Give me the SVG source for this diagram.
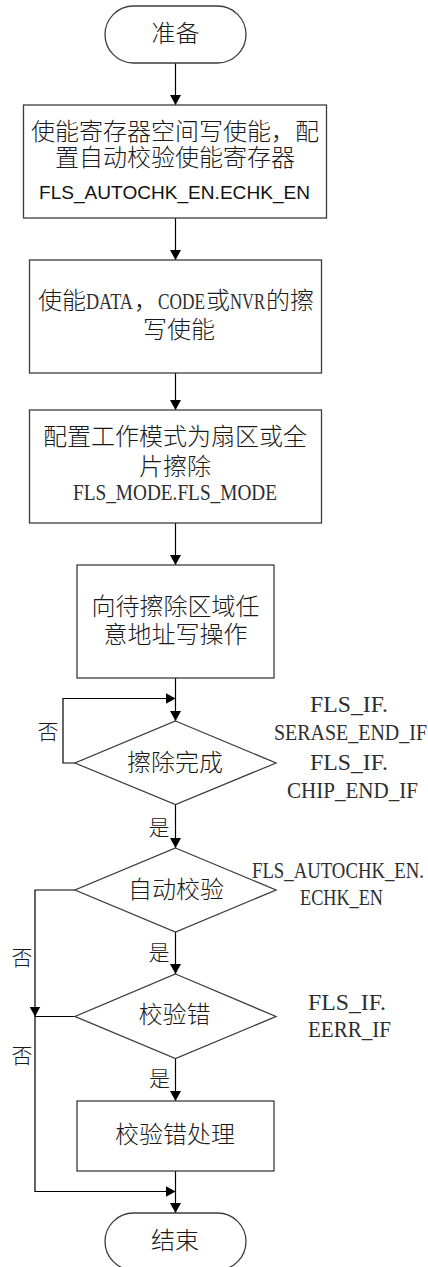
<svg xmlns="http://www.w3.org/2000/svg" width="428" height="1267" viewBox="0 0 428 1267">
  <style>
    .shape { fill: #ffffff; stroke: #3c3c3c; stroke-width: 1.3; }
    .link { fill: none; stroke: #000000; stroke-width: 1.2; }
    .zh { font-family: "Noto Sans CJK SC", "Noto Sans", sans-serif; font-size: 24px; font-weight: 300; fill: #1a1a1a; }
    .zh-mid { text-anchor: middle; }
    .lbl { font-family: "Noto Sans CJK SC", "Noto Sans", sans-serif; font-size: 21px; font-weight: 300; fill: #1a1a1a; text-anchor: middle; }
    .reg { font-family: "Liberation Serif", "Noto Sans CJK SC", serif; font-size: 23px; fill: #2e2e2e; }
    .reg-sans { font-family: "Liberation Sans", "Noto Sans", sans-serif; font-size: 19px; fill: #111111; }
  </style>
  <defs>
    <marker id="arrow" markerUnits="userSpaceOnUse" markerWidth="10" markerHeight="11" refX="10" refY="5.5" orient="auto">
      <path d="M0,0 L10,5.5 L0,11 Z" fill="#000000"/>
    </marker>
  </defs>

  <rect width="428" height="1267" fill="#ffffff"/>

  <!-- connectors -->
  <g id="connectors" class="link" marker-end="url(#arrow)">
    <path d="M175.5,63 V105"/>
    <path d="M175.5,218 V260"/>
    <path d="M175.5,373 V410"/>
    <path d="M175.5,523 V565"/>
    <path d="M175.5,678 V721"/>
    <path d="M75,763 H63 V698.5 H175.5"/>
    <path d="M175.5,804.5 V848"/>
    <path d="M75,890 H35 V1016.5"/>
    <path d="M175.5,932 V974"/>
    <path d="M75,1016.5 H35 V1191.5 H175.5"/>
    <path d="M175.5,1058.5 V1101"/>
    <path d="M175.5,1171 V1213"/>
  </g>

  <!-- start -->
  <g id="start">
    <rect class="shape" x="105" y="6" width="141" height="57" rx="28.5"/>
    <text class="zh zh-mid" x="175.5" y="41.5">准备</text>
  </g>

  <!-- enable register space write + auto check -->
  <g id="enable-autochk">
    <rect class="shape" x="23.5" y="105" width="303" height="113"/>
    <text class="zh zh-mid" x="175" y="140">使能寄存器空间写使能，配</text>
    <text class="zh zh-mid" x="175" y="166">置自动校验使能寄存器</text>
    <text class="reg-sans" x="39" y="199" textLength="271" lengthAdjust="spacingAndGlyphs">FLS_AUTOCHK_EN.ECHK_EN</text>
  </g>

  <!-- erase/write enable -->
  <g id="erase-enable">
    <rect class="shape" x="29.5" y="260" width="292" height="113"/>
    <text class="zh" y="309"><tspan x="38">使能</tspan><tspan class="reg" x="86" textLength="47" lengthAdjust="spacingAndGlyphs">DATA</tspan><tspan x="134">，</tspan><tspan class="reg" x="158" textLength="47" lengthAdjust="spacingAndGlyphs">CODE</tspan><tspan x="206">或</tspan><tspan class="reg" x="230" textLength="35" lengthAdjust="spacingAndGlyphs">NVR</tspan><tspan x="266">的擦</tspan></text>
    <text class="zh zh-mid" x="179" y="338">写使能</text>
  </g>

  <!-- erase mode -->
  <g id="erase-mode">
    <rect class="shape" x="29.5" y="410" width="292" height="113"/>
    <text class="zh zh-mid" x="175" y="445">配置工作模式为扇区或全</text>
    <text class="zh zh-mid" x="175" y="475">片擦除</text>
    <text class="reg" x="73" y="500" textLength="204" lengthAdjust="spacingAndGlyphs">FLS_MODE.FLS_MODE</text>
  </g>

  <!-- write to erase area -->
  <g id="write-address">
    <rect class="shape" x="77" y="565" width="197" height="113"/>
    <text class="zh zh-mid" x="175.5" y="615">向待擦除区域任</text>
    <text class="zh zh-mid" x="175.5" y="643">意地址写操作</text>
  </g>

  <!-- erase done -->
  <g id="erase-done">
    <polygon class="shape" points="175.5,721 276,763 175.5,804.5 75,763"/>
    <text class="zh zh-mid" x="175" y="771">擦除完成</text>
    <text class="reg" x="310" y="711.5" textLength="78" lengthAdjust="spacingAndGlyphs">FLS_IF.</text>
    <text class="reg" x="274" y="740" textLength="153" lengthAdjust="spacingAndGlyphs">SERASE_END_IF</text>
    <text class="reg" x="310" y="770" textLength="78" lengthAdjust="spacingAndGlyphs">FLS_IF.</text>
    <text class="reg" x="287" y="798" textLength="131" lengthAdjust="spacingAndGlyphs">CHIP_END_IF</text>
  </g>

  <!-- auto check -->
  <g id="auto-check">
    <polygon class="shape" points="175.5,848 276,890 175.5,932 75,890"/>
    <text class="zh zh-mid" x="176" y="898">自动校验</text>
    <text class="reg" x="252" y="878" textLength="172" lengthAdjust="spacingAndGlyphs">FLS_AUTOCHK_EN.</text>
    <text class="reg" x="300" y="905" textLength="83" lengthAdjust="spacingAndGlyphs">ECHK_EN</text>
  </g>

  <!-- check error -->
  <g id="check-error">
    <polygon class="shape" points="175.5,974 276,1016.5 175.5,1058.5 75,1016.5"/>
    <text class="zh zh-mid" x="174.5" y="1023">校验错</text>
    <text class="reg" x="308" y="1010" textLength="78" lengthAdjust="spacingAndGlyphs">FLS_IF.</text>
    <text class="reg" x="308" y="1037" textLength="83" lengthAdjust="spacingAndGlyphs">EERR_IF</text>
  </g>

  <!-- error handling -->
  <g id="error-handling">
    <rect class="shape" x="77" y="1101" width="197" height="70"/>
    <text class="zh zh-mid" x="175" y="1143">校验错处理</text>
  </g>

  <!-- end -->
  <g id="end">
    <rect class="shape" x="105" y="1213" width="141" height="57" rx="28.5"/>
    <text class="zh zh-mid" x="175" y="1249">结束</text>
  </g>

  <!-- branch labels -->
  <g id="branch-labels">
    <text class="lbl" x="48" y="739">否</text>
    <text class="lbl" x="159" y="835">是</text>
    <text class="lbl" x="22" y="965">否</text>
    <text class="lbl" x="159" y="960">是</text>
    <text class="lbl" x="22" y="1063">否</text>
    <text class="lbl" x="159.5" y="1086">是</text>
  </g>
</svg>
